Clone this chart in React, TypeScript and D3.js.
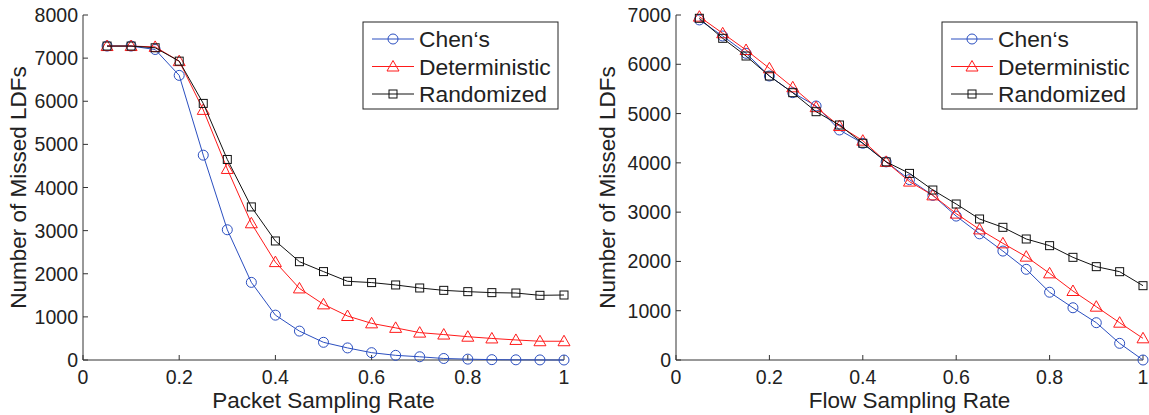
import React from "react";
import * as d3 from "d3";

const xs = [0.05, 0.1, 0.15, 0.2, 0.25, 0.3, 0.35, 0.4, 0.45, 0.5, 0.55, 0.6, 0.65, 0.7, 0.75, 0.8, 0.85, 0.9, 0.95, 1.0];

const packetChen = [7280, 7280, 7200, 6600, 4750, 3020, 1800, 1040, 670, 410, 280, 170, 108, 75, 35, 20, 8, 4, 2, 0];
const packetDet = [7280, 7280, 7260, 6930, 5800, 4430, 3170, 2270, 1660, 1290, 1020, 850, 745, 635, 590, 540, 500, 465, 435, 435];
const packetRand = [7280, 7280, 7240, 6930, 5950, 4650, 3550, 2760, 2280, 2050, 1825, 1795, 1740, 1670, 1615, 1585, 1562, 1553, 1500, 1507];

const flowChen = [6900, 6574, 6223, 5762, 5424, 5154, 4667, 4397, 4020, 3660, 3340, 2920, 2560, 2210, 1840, 1375, 1060, 757, 338, 0];
const flowDet = [6966, 6629, 6290, 5918, 5533, 5130, 4747, 4450, 4020, 3620, 3340, 2970, 2650, 2367, 2097, 1758, 1400, 1082, 757, 440];
const flowRand = [6933, 6527, 6168, 5762, 5424, 5038, 4768, 4397, 4020, 3786, 3449, 3165, 2861, 2692, 2455, 2320, 2083, 1894, 1792, 1508];

const xTicks = [0, 0.2, 0.4, 0.6, 0.8, 1];
const xTickLabels = ["0", "0.2", "0.4", "0.6", "0.8", "1"];
const packetYTicks = [0, 1000, 2000, 3000, 4000, 5000, 6000, 7000, 8000];
const flowYTicks = [0, 1000, 2000, 3000, 4000, 5000, 6000, 7000];

const seriesNames = ["Chen\u2018s", "Deterministic", "Randomized"];
const seriesColors = ["#2b4fc0", "#ff1a1a", "#111111"];
const seriesMarkers = ["circle", "triangle", "square"];

const FONT = "'Liberation Sans', Arial, Helvetica, sans-serif";
const TEXT = "#222";

function Marker({ type, x, y, color }: { type: string; x: number; y: number; color: string }) {
  if (type === "circle") return <circle cx={x} cy={y} r={5} fill="none" stroke={color} strokeWidth={1} />;
  if (type === "triangle") {
    const s = 6;
    return (
      <path
        d={`M${x},${y - s} L${x + s},${y + s * 0.75} L${x - s},${y + s * 0.75} Z`}
        fill="none"
        stroke={color}
        strokeWidth={1}
      />
    );
  }
  return <rect x={x - 4} y={y - 4} width={8} height={8} fill="none" stroke={color} strokeWidth={1} />;
}

function Panel({
  x0, x1, yTop, yBottom, yMax, yTicks, series, xLabel, yLabelX, legendX,
}: {
  x0: number; x1: number; yTop: number; yBottom: number; yMax: number; yTicks: number[];
  series: number[][]; xLabel: string; yLabelX: number; legendX: number;
}) {
  const x = d3.scaleLinear().domain([0, 1]).range([x0, x1]);
  const y = d3.scaleLinear().domain([0, yMax]).range([yBottom, yTop]);
  const line = d3.line<number>().x((_, i) => x(xs[i])).y((d) => y(d));
  const legendY = 22;
  return (
    <g fontFamily={FONT}>
      <line x1={x0} x2={x0} y1={yTop} y2={yBottom} stroke="#333" strokeWidth={1} />
      <line x1={x0} x2={x1} y1={yBottom} y2={yBottom} stroke="#333" strokeWidth={1} />
      {yTicks.map((t) => (
        <g key={"y" + t}>
          <line x1={x0} x2={x0 + 5} y1={y(t)} y2={y(t)} stroke="#333" />
          <text x={x0 - 5} y={y(t)} dy="0.36em" textAnchor="end" fontSize={19.5} fill={TEXT}>{t}</text>
        </g>
      ))}
      {xTicks.map((t, i) => (
        <g key={"x" + t}>
          <line x1={x(t)} x2={x(t)} y1={yBottom} y2={yBottom - 5} stroke="#333" />
          <text x={x(t)} y={yBottom + 17} dy="0.36em" textAnchor="middle" fontSize={19.5} fill={TEXT}>{xTickLabels[i]}</text>
        </g>
      ))}
      <text x={(x0 + x1) / 2} y={400} dy="0.36em" textAnchor="middle" fontSize={22.5} fill={TEXT}>{xLabel}</text>
      <text
        transform={`translate(${yLabelX},${(yTop + yBottom) / 2}) rotate(-90)`}
        dy="0.36em"
        textAnchor="middle"
        fontSize={22.5}
        fill={TEXT}
      >
        Number of Missed LDFs
      </text>
      {series.map((s, k) => (
        <g key={"s" + k}>
          <path d={line(s) || ""} fill="none" stroke={seriesColors[k]} strokeWidth={1} />
          {s.map((v, i) => (
            <Marker key={i} type={seriesMarkers[k]} x={x(xs[i])} y={y(v)} color={seriesColors[k]} />
          ))}
        </g>
      ))}
      <rect x={legendX} y={legendY} width={195} height={87} fill="white" stroke="#222" strokeWidth={1} />
      {seriesNames.map((n, k) => {
        const ly = legendY + 17 + k * 27.5;
        return (
          <g key={"l" + k}>
            <line x1={legendX + 9} x2={legendX + 51} y1={ly} y2={ly} stroke={seriesColors[k]} strokeWidth={1} />
            <Marker type={seriesMarkers[k]} x={legendX + 30} y={ly} color={seriesColors[k]} />
            <text x={legendX + 56} y={ly} dy="0.36em" fontSize={22.8} fill={TEXT}>{n}</text>
          </g>
        );
      })}
    </g>
  );
}

export default function App() {
  return (
    <svg width={1149} height={415} style={{ position: "absolute", left: 0, top: 0, background: "white" }}>
      <rect width={1149} height={415} fill="white" />
      <Panel
        x0={83} x1={564} yTop={15} yBottom={360} yMax={8000} yTicks={packetYTicks}
        series={[packetChen, packetDet, packetRand]} xLabel="Packet Sampling Rate" yLabelX={18} legendX={363}
      />
      <Panel
        x0={676} x1={1143} yTop={15} yBottom={360} yMax={7000} yTicks={flowYTicks}
        series={[flowChen, flowDet, flowRand]} xLabel="Flow Sampling Rate" yLabelX={607} legendX={942}
      />
    </svg>
  );
}
